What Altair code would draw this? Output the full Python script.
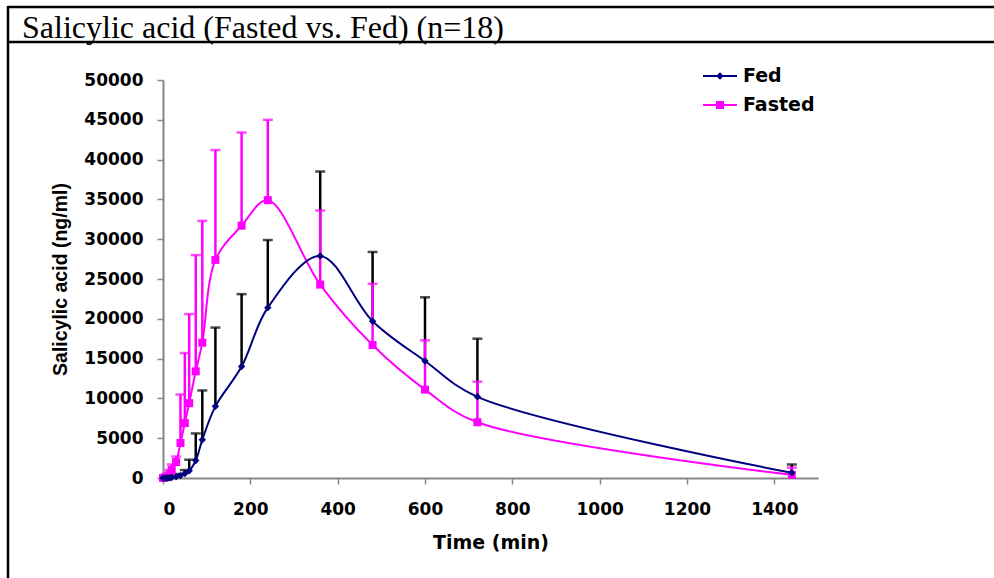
import altair as alt
import pandas as pd

# ---------------- data ----------------
times = [0, 5, 10, 15, 20, 30, 40, 50, 60, 75, 90, 120, 180, 240, 360, 480, 600, 720, 1440]

fed_mean = [0, 0, 0, 30, 60, 150, 300, 550, 900, 2200, 4800, 9000, 14000, 21400, 27900, 19700, 14700, 10200, 650]
fed_upper = [0, 0, 50, 100, 150, 300, 500, 1000, 2300, 5600, 11000, 18900, 23100, 29900, 38500, 28400, 22700, 17500, 1700]

fasted_mean = [0, 80, 200, 450, 1000, 2000, 4400, 6900, 9400, 13400, 17000, 27400, 31700, 34900, 24300, 16700, 11100, 7000, 400]
fasted_upper = [0, 200, 500, 1000, 1700, 2700, 10500, 15700, 20600, 28000, 32300, 41200, 43400, 45000, 33600, 24400, 17300, 12100, 1300]

series_names = ["Fed", "Fasted"]
title_text = "Salicylic acid (Fasted vs. Fed) (n=18)"
x_tick_values = [0, 200, 400, 600, 800, 1000, 1200, 1400]
y_tick_values = [0, 5000, 10000, 15000, 20000, 25000, 30000, 35000, 40000, 45000, 50000]

rows = []
for i, t in enumerate(times):
    rows.append({"time": t, "series": "Fed", "mean": fed_mean[i], "upper": fed_upper[i]})
    rows.append({"time": t, "series": "Fasted", "mean": fasted_mean[i], "upper": fasted_upper[i]})
df = pd.DataFrame(rows)

FED_COLOR = "#000080"
FASTED_COLOR = "#FF00FF"

x_scale = alt.Scale(domain=[0, 1500], nice=False, zero=False)
y_scale = alt.Scale(domain=[0, 50000], nice=False)

x_axis = alt.Axis(
    values=x_tick_values, title="Time (min)", format="d", labelOverlap=False,
    labelFont="DejaVu Sans", labelFontWeight="bold", labelFontSize=17, labelColor="black",
    labelPadding=17, titleFont="DejaVu Sans", titleFontWeight="bold", titleFontSize=19,
    titleColor="black", titlePadding=16, grid=False,
    domainColor="#868686", domainWidth=2, tickColor="#868686", tickWidth=1.5, tickSize=6,
)
y_axis = alt.Axis(
    values=y_tick_values, title="Salicylic acid (ng/ml)", format="d", labelOverlap=False,
    labelFont="DejaVu Sans", labelFontWeight="bold", labelFontSize=17, labelColor="black",
    labelPadding=14, titleFont="Liberation Sans", titleFontWeight="bold", titleFontSize=19.5,
    titleColor="black", titlePadding=13, grid=False,
    domainColor="#868686", domainWidth=2, tickColor="#868686", tickWidth=1.5, tickSize=6,
)

base = alt.Chart(df)
X = alt.X("time:Q", scale=x_scale, axis=x_axis)


def series_layers(name, color, shape, size, bar_color):
    d = base.transform_filter(alt.datum.series == name)
    bars = d.transform_filter(alt.datum.upper > alt.datum.mean).mark_rule(
        color=bar_color, strokeWidth=2.5
    ).encode(
        x=X,
        y=alt.Y("mean:Q", scale=y_scale, axis=y_axis),
        y2="upper:Q",
    )
    caps = d.transform_filter(alt.datum.upper > alt.datum.mean).mark_tick(
        color=bar_color, orient="horizontal", size=10, thickness=2.5
    ).encode(
        x=X,
        y=alt.Y("upper:Q", scale=y_scale, axis=y_axis),
    )
    line = d.mark_line(color=color, strokeWidth=2, interpolate="catmull-rom").encode(
        x=X,
        y=alt.Y("mean:Q", scale=y_scale, axis=y_axis),
        order="time:Q",
    )
    pts = d.mark_point(color=color, filled=True, shape=shape, size=size, opacity=1).encode(
        x=X,
        y=alt.Y("mean:Q", scale=y_scale, axis=y_axis),
    )
    return bars, caps, line, pts


fed_bars, fed_caps, fed_line, fed_pts = series_layers("Fed", FED_COLOR, "diamond", 55, "black")
fa_bars, fa_caps, fa_line, fa_pts = series_layers("Fasted", FASTED_COLOR, "square", 64, FASTED_COLOR)

one = pd.DataFrame({"label": [title_text]})

title = alt.Chart(one).mark_text(
    font="Liberation Serif", fontSize=32, align="left", baseline="alphabetic", color="black"
).encode(text="label:N", x=alt.value(-141), y=alt.value(-42))

frame_top = alt.Chart(one).mark_rule(color="black", strokeWidth=2.5).encode(
    x=alt.value(-155), x2=alt.value(831), y=alt.value(-73))
frame_mid = alt.Chart(one).mark_rule(color="black", strokeWidth=2.5).encode(
    x=alt.value(-155), x2=alt.value(831), y=alt.value(-38))
frame_left = alt.Chart(one).mark_rule(color="black", strokeWidth=2.5).encode(
    x=alt.value(-155), y=alt.value(-74), y2=alt.value(498))

legend_layers = []
for name, color, shape, size, ly in [
    (series_names[0], FED_COLOR, "diamond", 55, -4),
    (series_names[1], FASTED_COLOR, "square", 64, 25),
]:
    ld = pd.DataFrame({"label": [name]})
    legend_layers.append(alt.Chart(ld).mark_rule(color=color, strokeWidth=2).encode(
        x=alt.value(540), x2=alt.value(574), y=alt.value(ly)))
    legend_layers.append(alt.Chart(ld).mark_point(color=color, filled=True, shape=shape, size=size, opacity=1).encode(
        x=alt.value(557), y=alt.value(ly)))
    legend_layers.append(alt.Chart(ld).mark_text(
        font="DejaVu Sans", fontWeight="bold", fontSize=19, align="left", baseline="middle", color="black"
    ).encode(text="label:N", x=alt.value(580), y=alt.value(ly)))

chart = alt.layer(
    fed_bars, fed_caps, fa_bars, fa_caps, fa_line, fa_pts, fed_line, fed_pts,
    title, frame_top, frame_mid, frame_left, *legend_layers
).properties(
    width=655, height=398,
    autosize=alt.AutoSizeParams(type="none"),
    padding={"left": 163, "top": 80, "right": 176, "bottom": 100},
    background="white",
).configure_view(stroke=None).configure_axis(labelOverlap=False)

chart.save("out.html", embed_options={"renderer": "svg", "actions": False})
